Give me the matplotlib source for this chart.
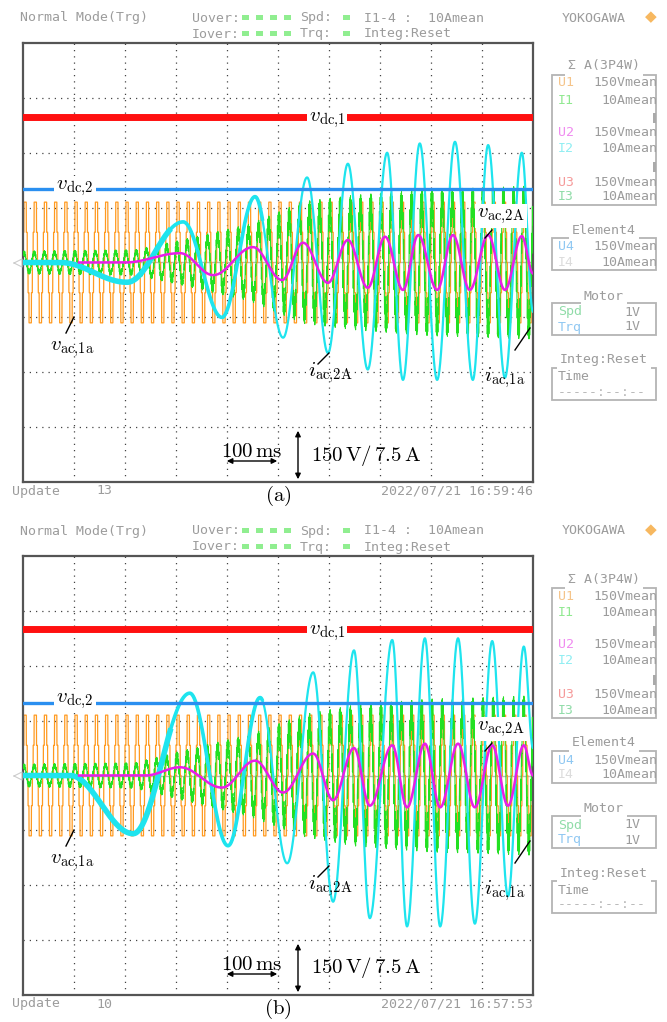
import numpy as np
import matplotlib
matplotlib.use('Agg')
from matplotlib import pyplot as plt
from matplotlib.patches import Rectangle

plt.rcParams['mathtext.fontset'] = 'cm'

# ---- values (x in divisions 0..10, y in divisions) ----
dc1_level = [2.65, 2.67]
dc2_level = [1.34, 1.33]
vac1_amp = 1.1

# i_ac,2A (cyan) extrema
cyan_a_t = [0, 0.73, 2.04, 3.14, 3.90, 4.55, 5.10, 5.57, 5.98, 6.37, 6.76, 7.14, 7.45,
            7.78, 8.12, 8.47, 8.82, 9.12, 9.45, 9.78, 10]
cyan_a_v = [0, 0, -0.36, 0.74, -1.0, 1.2, -1.37, 1.55, -1.65, 1.8, -1.95, 2.0, -2.14,
            2.17, -2.14, 2.2, -2.14, 2.14, -2.1, 2.0, -0.9]
cyan_b_t = [0, 0.92, 2.16, 3.27, 4.02, 4.65, 5.18, 5.69, 6.08, 6.49, 6.80, 7.24, 7.53,
            7.88, 8.18, 8.53, 8.86, 9.20, 9.51, 9.82, 10]
cyan_b_v = [0, 0, -1.06, 1.5, -1.28, 1.42, -1.6, 1.88, -2.3, 2.28, -2.6, 2.47, -2.75,
            2.5, -2.75, 2.5, -2.7, 2.45, -2.2, 2.35, 0.5]

# v_ac,2A (magenta) extrema
mag_a_t = [1.1, 2.0, 3.08, 3.73, 4.51, 5.08, 5.49, 5.98, 6.37, 6.76, 7.10, 7.45, 7.75,
           8.12, 8.43, 8.76, 9.12, 9.45, 9.78, 10]
mag_a_v = [0, 0, 0.17, -0.23, 0.28, -0.32, 0.36, -0.37, 0.41, -0.46, 0.47, -0.5, 0.5,
           -0.5, 0.5, -0.5, 0.5, -0.5, 0.48, -0.2]
mag_b_t = [1.1, 2.4, 3.08, 3.90, 4.55, 5.10, 5.69, 6.08, 6.49, 6.80, 7.24, 7.53, 7.88,
           8.18, 8.53, 8.86, 9.20, 9.51, 9.82, 10]
mag_b_v = [0, 0, 0.15, -0.22, 0.27, -0.31, 0.4, -0.45, 0.5, -0.55, 0.55, -0.58, 0.58,
           -0.58, 0.58, -0.58, 0.55, -0.55, 0.55, 0]

# i_ac,1a (green) envelope
green_a_t = [0, 2.2, 3.1, 4.45, 5.5, 6.5, 8, 10]
green_a_v = [0.18, 0.2, 0.35, 0.6, 0.95, 1.05, 1.15, 1.2]
green_b_t = [0, 2.2, 3.1, 4.45, 5.5, 6.5, 8, 10]
green_b_v = [0.18, 0.2, 0.38, 0.64, 0.95, 1.1, 1.2, 1.25]

cycles_per_div = 5  # 50 Hz at 100 ms/div

panel_names = ['(a)', '(b)']
update_no = ['13', '10']
stamps = ['2022/07/21 16:59:46', '2022/07/21 16:57:53']

side_rows = [('U1', '150Vmean', '#f5c48a'), ('I1', '10Amean', '#90e890'),
             ('U2', '150Vmean', '#f08cf0'), ('I2', '10Amean', '#90eef2'),
             ('U3', '150Vmean', '#f59a9a'), ('I3', '10Amean', '#90dca8')]
elem4_rows = [('U4', '150Vmean', '#90c8f2'), ('I4', '10Amean', '#dcdcdc')]
motor_rows = [('Spd', '1V', '#90dca8'), ('Trq', '1V', '#90c8f2')]

W, H = 667, 1022
fig = plt.figure(figsize=(W / 100, H / 100), dpi=100)
ov = fig.add_axes([0, 0, 1, 1], zorder=10)
ov.set_xlim(0, W)
ov.set_ylim(H, 0)
ov.axis('off')

MONO = 'DejaVu Sans Mono'
GRAY = '#9c9c9c'


def through(tk, vk, t):
    tk = np.asarray(tk, float)
    vk = np.asarray(vk, float)
    i = np.clip(np.searchsorted(tk, t, side='right') - 1, 0, len(tk) - 2)
    s = np.clip((t - tk[i]) / (tk[i + 1] - tk[i]), 0, 1)
    return vk[i] + (vk[i + 1] - vk[i]) * (1 - np.cos(np.pi * s)) / 2


def mono(x, y, s, color=GRAY, ha='left', size=9.5):
    ov.text(x, y, s, family=MONO, fontsize=size, color=color, ha=ha, va='center')


def panel(k, off):
    ax = fig.add_axes([23 / W, 1 - (482 + off) / H, 510 / W, 439 / H], zorder=1)
    ax.set_xlim(0, 10)
    ax.set_ylim(-4, 4)
    ax.set_xticks([])
    ax.set_yticks([])
    for sp in ax.spines.values():
        sp.set_color('#555555')
        sp.set_linewidth(1.6)
    for i in range(1, 10):
        ax.axvline(i, color='#444444', lw=0.9, ls=(0, (1, 4)), zorder=0)
    for j in range(-3, 4):
        if j == 0:
            ax.axhline(0, color='#b8b8b8', lw=1.0, zorder=0)
        else:
            ax.axhline(j, color='#444444', lw=0.9, ls=(0, (1, 4)), zorder=0)

    t = np.linspace(0, 10, 9000)
    w = 2 * np.pi * cycles_per_div * t
    orange = vac1_amp * np.round(2 * np.sin(w + 0.3)) / 2
    ax.plot(t, orange, color='#ff9a1f', lw=0.9, zorder=2)

    gt, gv = (green_a_t, green_a_v) if k == 0 else (green_b_t, green_b_v)
    env = np.interp(t, gt, gv)
    green = env * (np.sin(w + 1.0) + 0.18 * np.sin(13 * w) + 0.1 * np.sin(29 * w))
    ax.plot(t, green, color='#22e022', lw=0.75, zorder=3)

    ct, cv = (cyan_a_t, cyan_a_v) if k == 0 else (cyan_b_t, cyan_b_v)
    cy = through(ct, cv, t)
    ax.plot(t, cy, color='#1ee4ee', lw=1.6, zorder=4)
    m1 = t < 2.9
    ax.plot(t[m1], cy[m1], color='#1ee4ee', lw=4.0, zorder=4, solid_capstyle='butt')
    m2 = (t > 2.8) & (t < 4.7)
    ax.plot(t[m2], cy[m2], color='#1ee4ee', lw=2.6, zorder=4, solid_capstyle='butt')

    mt, mv = (mag_a_t, mag_a_v) if k == 0 else (mag_b_t, mag_b_v)
    tm = t[t >= mt[0]]
    ax.plot(tm, through(mt, mv, tm), color='#e81ee8', lw=1.8, zorder=5)

    ax.axhline(dc2_level[k], color='#2a8ff0', lw=2.4, zorder=6)
    ax.axhline(dc1_level[k], color='#ff1010', lw=5.0, zorder=6)

    # ground marker
    ov.plot([14, 22, 22, 14], [263 + off, 259 + off, 267 + off, 263 + off], color='#cccccc', lw=0.8)

    # header
    mono(20, 18 + off, 'Normal Mode(Trg)')
    mono(192, 18 + off, 'Uover:')
    mono(192, 34 + off, 'Iover:')
    for y in (18 + off, 34 + off):
        for xx in (242, 256, 270, 284):
            ov.add_patch(Rectangle((xx, y - 2.5), 7, 5, color='#90ee90', lw=0))
        ov.add_patch(Rectangle((343, y - 2.5), 7, 5, color='#90ee90', lw=0))
    mono(300, 18 + off, 'Spd:')
    mono(300, 34 + off, 'Trq:')
    mono(364, 18 + off, 'I1-4 :  10Amean')
    mono(364, 34 + off, 'Integ:Reset')
    mono(562, 18 + off, 'YOKOGAWA')
    ov.text(651, 17 + off, '\u25c6', fontsize=11, color='#f7b860', ha='center', va='center')

    # footer
    mono(12, 491 + off, 'Update')
    mono(96, 491 + off, update_no[k])
    mono(533, 491 + off, stamps[k], ha='right')

    # side panel
    def box(y0, y1, title, ty):
        ov.add_patch(Rectangle((552, y0 + off), 104, y1 - y0, fill=False, ec='#b4b4b4', lw=1.3))
        ov.text(604, ty + off, title, family=MONO, fontsize=9.5, color=GRAY, ha='center',
                va='center', bbox=dict(fc='white', ec='none', pad=2.5))

    box(75, 205, '\u03a3 A(3P4W)', 66)
    for i, (a, b, c) in enumerate(side_rows):
        y = [83, 100, 132, 148, 182, 197][i] + off
        mono(558, y, a, color=c)
        mono(657, y, b, ha='right')
    for yb in (113, 162):
        ov.add_patch(Rectangle((653, yb + off), 3, 10, color='#aaaaaa', lw=0))
    box(238, 270, 'Element4', 230)
    for i, (a, b, c) in enumerate(elem4_rows):
        y = [247, 262][i] + off
        mono(558, y, a, color=c)
        mono(657, y, b, ha='right')
    box(303, 335, 'Motor', 296)
    for i, (a, b, c) in enumerate(motor_rows):
        y = [312, 327][i] + off
        mono(558, y, a, color=c)
        mono(640, y, b, ha='right')
    box(368, 400, 'Integ:Reset', 360)
    mono(558, 377 + off, 'Time')
    mono(558, 392 + off, '-----:--:--', color='#b8b8b8')

    # trace labels
    lab = dict(fontsize=15, ha='center', va='center')
    wb = dict(fc='white', ec='none', pad=1.5)
    ov.text(327, 120 + off, r'$v_{\mathrm{dc{,}1}}$', bbox=wb, **lab)
    ov.text(75, 188 + off, r'$v_{\mathrm{dc{,}2}}$', bbox=wb, **lab)
    ov.text(501, 216 + off, r'$v_{\mathrm{ac{,}2A}}$', bbox=wb, **lab)
    ov.plot([485, 492], [238 + off, 230 + off], color='black', lw=1)
    ov.text(72, 349 + off, r'$v_{\mathrm{ac{,}1a}}$', **lab)
    ov.plot([66, 74], [333 + off, 317 + off], color='black', lw=1)
    ov.text(330, 373 + off, r'$i_{\mathrm{ac{,}2A}}$', **lab)
    ov.plot([318, 329], [364 + off, 353 + off], color='black', lw=1)
    ov.text(505, 378 + off, r'$i_{\mathrm{ac{,}1a}}$', **lab)
    ov.plot([515, 530], [350 + off, 328 + off], color='black', lw=1)

    ov.text(252, 451 + off, r'$100\,\mathrm{ms}$', **lab)
    ov.annotate('', xy=(224, 461 + off), xytext=(280, 461 + off),
                arrowprops=dict(arrowstyle='<|-|>', color='black', lw=1, mutation_scale=8))
    ov.annotate('', xy=(298, 428 + off), xytext=(298, 482 + off),
                arrowprops=dict(arrowstyle='<|-|>', color='black', lw=1, mutation_scale=8))
    ov.text(366, 455 + off, r'$150\,\mathrm{V}/\,7.5\,\mathrm{A}$', **lab)
    ov.text(278, 496 + off, r'$\mathrm{' + panel_names[k] + '}$', **lab)


panel(0, 0)
panel(1, 513)

fig.savefig('out.png', dpi=100, facecolor='white')
